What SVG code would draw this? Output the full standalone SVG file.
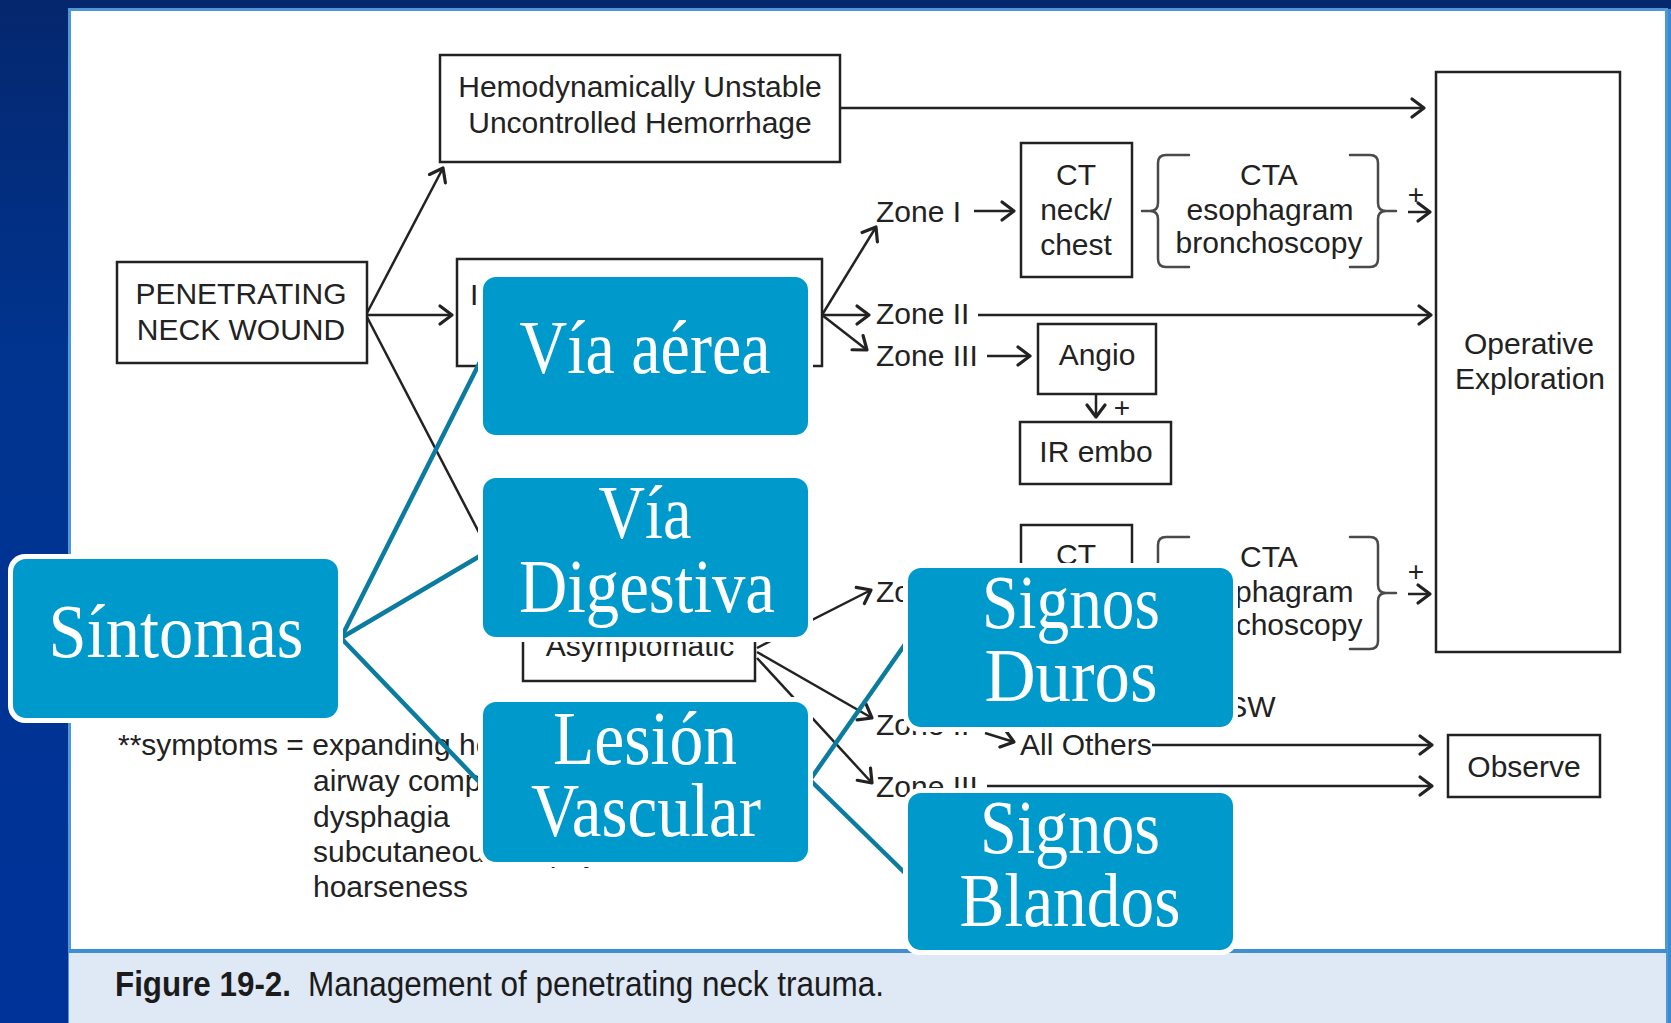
<svg xmlns="http://www.w3.org/2000/svg" width="1671" height="1023" viewBox="0 0 1671 1023">
<defs>
<linearGradient id="bg" x1="0" y1="0" x2="0" y2="1">
<stop offset="0" stop-color="#05276e"/>
<stop offset="0.35" stop-color="#00348f"/>
<stop offset="1" stop-color="#003399"/>
</linearGradient>
<marker id="ah" markerUnits="userSpaceOnUse" markerWidth="30" markerHeight="30" viewBox="-15 -15 30 30" refX="0" refY="0" orient="auto" overflow="visible">
<path d="M-12,-9 L0,0 L-12,9" fill="none" stroke="#222" stroke-width="3.2" stroke-linejoin="round" stroke-linecap="round"/>
</marker>
<style>
.box{fill:#fff;stroke:#222;stroke-width:2.5}
.t{font-family:"Liberation Sans",Arial,sans-serif;font-size:30px;fill:#222}
.m{text-anchor:middle}
.ln{fill:none;stroke:#222;stroke-width:2.5}
.arr{marker-end:url(#ah)}
.br{fill:none;stroke:#4a4a4a;stroke-width:2.5;stroke-linecap:round}
.tl{stroke:#0b7ca0;stroke-width:4.5;fill:none;stroke-linecap:round}
.bo{fill:#fff}
.bb{fill:#0099cc}
.bt{font-family:"Liberation Serif","Times New Roman",serif;font-size:76px;fill:#fff;text-anchor:middle}
.pl{font-family:"Liberation Sans",Arial,sans-serif;font-size:28px;fill:#222;text-anchor:middle}
.cap{font-family:"Liberation Sans Narrow","Liberation Sans",Arial,sans-serif;font-size:35px;fill:#1b1b1b}
</style>
</defs>

<g id="background">
<rect width="1671" height="1023" fill="url(#bg)"/>
<rect x="1665" y="9" width="6" height="1014" fill="#3b8ad0"/>
<rect x="69.5" y="9.5" width="1597" height="1020" fill="#fff" stroke="#4e98d8" stroke-width="3"/>
<rect x="69" y="951" width="1597" height="72" fill="#dfe8f5"/>
<line x1="69" y1="951" x2="1667" y2="951" stroke="#3d8ed2" stroke-width="4"/>
<text class="cap" x="115" y="996" font-weight="bold" textLength="176" lengthAdjust="spacingAndGlyphs">Figure 19-2.</text>
<text class="cap" x="308" y="996" textLength="576" lengthAdjust="spacingAndGlyphs">Management of penetrating neck trauma.</text>
</g>

<g id="flow-nodes">
<g id="hemo-unstable">
<rect class="box" x="440" y="55" width="400" height="107"/>
<text class="t m" x="640" y="97">Hemodynamically Unstable</text>
<text class="t m" x="640" y="133">Uncontrolled Hemorrhage</text>
</g>
<g id="penetrating">
<rect class="box" x="117" y="262" width="250" height="101"/>
<text class="t m" x="241" y="304">PENETRATING</text>
<text class="t m" x="241" y="340">NECK WOUND</text>
</g>
<g id="hemo-stable">
<rect class="box" x="457" y="259" width="365" height="107"/>
<text class="t" x="470" y="305">I</text>
</g>
<g id="asymptomatic">
<rect class="box" x="523" y="598" width="232" height="83"/>
<text class="t m" x="640" y="656">Asymptomatic</text>
</g>
<g id="operative">
<rect class="box" x="1436" y="72" width="184" height="580"/>
<text class="t m" x="1529" y="354">Operative</text>
<text class="t m" x="1530" y="389">Exploration</text>
</g>
<g id="ct-upper">
<rect class="box" x="1021" y="143" width="111" height="134"/>
<text class="t m" x="1076" y="185">CT</text>
<text class="t m" x="1076" y="220">neck/</text>
<text class="t m" x="1076" y="255">chest</text>
</g>
<g id="cta-upper">
<path class="br" d="M1189,155 H1166 Q1158,155 1158,163 V203 Q1158,211 1150,211 H1142 M1150,211 Q1158,211 1158,219 V259 Q1158,267 1166,267 H1189"/>
<path class="br" d="M1350,155 H1370 Q1378,155 1378,163 V203 Q1378,211 1386,211 H1396 M1386,211 Q1378,211 1378,219 V259 Q1378,267 1370,267 H1350"/>
<text class="t m" x="1269" y="185">CTA</text>
<text class="t m" x="1270" y="220">esophagram</text>
<text class="t m" x="1269" y="253">bronchoscopy</text>
<text class="pl" x="1416" y="204">+</text>
</g>
<g id="angio">
<rect class="box" x="1038" y="324" width="118" height="70"/>
<text class="t m" x="1097" y="365">Angio</text>
<text class="pl" x="1122" y="417">+</text>
</g>
<g id="ir-embo">
<rect class="box" x="1020" y="422" width="151" height="62"/>
<text class="t m" x="1096" y="462">IR embo</text>
</g>
<g id="ct-lower" transform="translate(0,382)">
<rect class="box" x="1021" y="143" width="111" height="134"/>
<text class="t m" x="1076" y="183">CT</text>
</g>
<g id="cta-lower" transform="translate(0,382)">
<path class="br" d="M1189,155 H1166 Q1158,155 1158,163 V203 Q1158,211 1150,211 H1142 M1150,211 Q1158,211 1158,219 V259 Q1158,267 1166,267 H1189"/>
<path class="br" d="M1350,155 H1370 Q1378,155 1378,163 V203 Q1378,211 1386,211 H1396 M1386,211 Q1378,211 1378,219 V259 Q1378,267 1370,267 H1350"/>
<text class="t m" x="1269" y="185">CTA</text>
<text class="t m" x="1270" y="220">esophagram</text>
<text class="t m" x="1269" y="253">bronchoscopy</text>
<text class="pl" x="1416" y="199">+</text>
</g>
<g id="observe">
<rect class="box" x="1448" y="735" width="152" height="62"/>
<text class="t m" x="1524" y="777">Observe</text>
</g>
<g id="zone-labels">
<text class="t" x="876" y="222">Zone I</text>
<text class="t" x="876" y="324">Zone II</text>
<text class="t" x="876" y="366">Zone III</text>
<text class="t" x="876" y="602">Zone I</text>
<text class="t" x="876" y="735">Zone II</text>
<text class="t" x="876" y="797">Zone III</text>
<text class="t" x="1204" y="717">GSW</text>
<text class="t" x="1020" y="755">All Others</text>
</g>
<g id="footnote">
<text class="t" x="118" y="755">**symptoms = expanding hematoma</text>
<text class="t" x="313" y="791">airway compromise</text>
<text class="t" x="313" y="827">dysphagia</text>
<text class="t" x="313" y="862">subcutaneous emphysema</text>
<text class="t" x="313" y="897">hoarseness</text>
</g>
</g>

<g id="connectors">
<path class="ln arr" d="M367,313 L443,168"/>
<path class="ln arr" d="M367,315 L452,315"/>
<path class="ln arr" d="M367,317 L512,596"/>
<path class="ln arr" d="M840,108 L1424,108"/>
<path class="ln arr" d="M822,315 L876,227"/>
<path class="ln arr" d="M822,315 L869,315"/>
<path class="ln arr" d="M822,315 L867,350"/>
<path class="ln arr" d="M974,211 L1014,211"/>
<path class="ln arr" d="M978,315 L1431,315"/>
<path class="ln arr" d="M987,356 L1030,356"/>
<path class="ln arr" d="M1096,394 L1096,417"/>
<path class="ln arr" d="M1408,212 L1430,212"/>
<path class="ln arr" d="M1408,594 L1430,594"/>
<path class="ln arr" d="M757,648 L871,590"/>
<path class="ln arr" d="M757,652 L872,718"/>
<path class="ln arr" d="M757,658 L872,783"/>
<path class="ln arr" d="M985,733 L1014,742"/>
<path class="ln arr" d="M1152,745 L1432,745"/>
<path class="ln arr" d="M987,786 L1432,786"/>
<path class="tl" d="M341,638 L485,352"/>
<path class="tl" d="M341,638 L485,553"/>
<path class="tl" d="M341,638 L485,788"/>
<path class="tl" d="M810,780 L908,640"/>
<path class="tl" d="M810,780 L908,876"/>
</g>

<g id="sintomas">
<rect class="bo" x="8" y="554" width="335" height="169" rx="17"/>
<rect class="bb" x="13" y="559" width="325" height="159" rx="13"/>
<text class="bt" x="176" y="657" textLength="255" lengthAdjust="spacingAndGlyphs">Síntomas</text>
</g>
<g id="via-aerea">
<rect class="bo" x="478" y="272" width="335" height="168" rx="17"/>
<rect class="bb" x="483" y="277" width="325" height="158" rx="13"/>
<text class="bt" x="645" y="373" textLength="251" lengthAdjust="spacingAndGlyphs">Vía aérea</text>
</g>
<g id="via-digestiva">
<rect class="bo" x="478" y="473" width="335" height="169" rx="17"/>
<rect class="bb" x="483" y="478" width="325" height="159" rx="13"/>
<text class="bt" x="645" y="538" textLength="93" lengthAdjust="spacingAndGlyphs">Vía</text>
<text class="bt" x="647" y="612" textLength="256" lengthAdjust="spacingAndGlyphs">Digestiva</text>
</g>
<g id="lesion-vascular">
<rect class="bo" x="478" y="697" width="335" height="170" rx="17"/>
<rect class="bb" x="483" y="702" width="325" height="160" rx="13"/>
<text class="bt" x="645" y="764" textLength="184" lengthAdjust="spacingAndGlyphs">Lesión</text>
<text class="bt" x="646" y="836" textLength="230" lengthAdjust="spacingAndGlyphs">Vascular</text>
</g>
<g id="signos-duros">
<rect class="bo" x="903" y="563" width="335" height="169" rx="17"/>
<rect class="bb" x="908" y="568" width="325" height="159" rx="13"/>
<text class="bt" x="1071" y="628" textLength="178" lengthAdjust="spacingAndGlyphs">Signos</text>
<text class="bt" x="1071" y="701" textLength="173" lengthAdjust="spacingAndGlyphs">Duros</text>
</g>
<g id="signos-blandos">
<rect class="bo" x="903" y="788" width="335" height="167" rx="17"/>
<rect class="bb" x="908" y="793" width="325" height="157" rx="13"/>
<text class="bt" x="1070" y="853" textLength="180" lengthAdjust="spacingAndGlyphs">Signos</text>
<text class="bt" x="1070" y="926" textLength="221" lengthAdjust="spacingAndGlyphs">Blandos</text>
</g>
</svg>
